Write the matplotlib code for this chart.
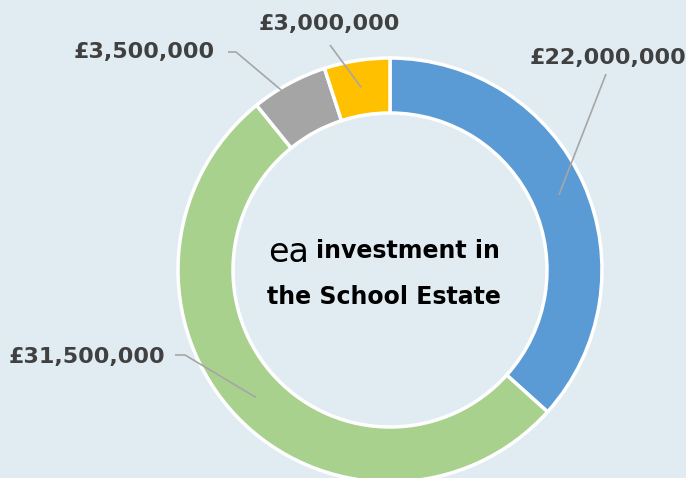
import numpy as np
import matplotlib
matplotlib.use("Agg")
import matplotlib.pyplot as plt

# ---- data ----
categories = ["Blue", "Green", "Grey", "Yellow"]
values = [22000000, 31500000, 3500000, 3000000]
labels = ["£22,000,000", "£31,500,000", "£3,500,000", "£3,000,000"]
colors = ["#5b9bd5", "#a9d18e", "#a5a5a5", "#ffc000"]

W, H = 686, 478
BG = "#e0ecf1"
fig = plt.figure(figsize=(W / 100, H / 100), dpi=100, facecolor=BG)
ax = fig.add_axes([0, 0, 1, 1])
ax.set_facecolor(BG)

cx, cy = 390, H - 270
R_out, R_in = 212, 157
wedges, _ = ax.pie(values, colors=colors, startangle=90, counterclock=False,
                   radius=R_out, center=(cx, cy),
                   wedgeprops=dict(width=R_out - R_in, edgecolor="white", linewidth=2.5))
ax.set_xlim(0, W)
ax.set_ylim(0, H)
ax.set_aspect("equal")
ax.axis("off")

# label layout: (text x, text y, ha, elbow points in pixel coords from top)
layout = [
    dict(tx=608, ty=58, ha="center", path=[(606, 74)]),
    dict(tx=165, ty=357, ha="right", path=[(175, 355), (185, 355)]),
    dict(tx=215, ty=52, ha="right", path=[(228, 52), (236, 52)]),
    dict(tx=329, ty=24, ha="center", path=[(330, 45)]),
]
line_col = "#a6a6a6"
r_mid = 185
for w, lab, lay in zip(wedges, labels, layout):
    ang = np.deg2rad((w.theta1 + w.theta2) / 2)
    px = cx + r_mid * np.cos(ang)
    py = cy + r_mid * np.sin(ang)
    xs = [p[0] for p in lay["path"]] + [px]
    ys = [H - p[1] for p in lay["path"]] + [py]
    ax.plot(xs, ys, color=line_col, lw=1.2, solid_capstyle="butt", zorder=3)
    ax.text(lay["tx"], H - lay["ty"], lab, ha=lay["ha"], va="center",
            fontsize=16, fontweight="bold", color="#404040", family="DejaVu Sans")

# center title
ax.text(268, H - 253, "ea", ha="left", va="center", fontsize=24, color="black",
        family="DejaVu Sans")
ax.text(316, H - 251, "investment in", ha="left", va="center", fontsize=17,
        fontweight="bold", color="black", family="DejaVu Sans")
ax.text(384, H - 297, "the School Estate", ha="center", va="center", fontsize=17,
        fontweight="bold", color="black", family="DejaVu Sans")

fig.savefig("out.png", dpi=100, facecolor=BG)
